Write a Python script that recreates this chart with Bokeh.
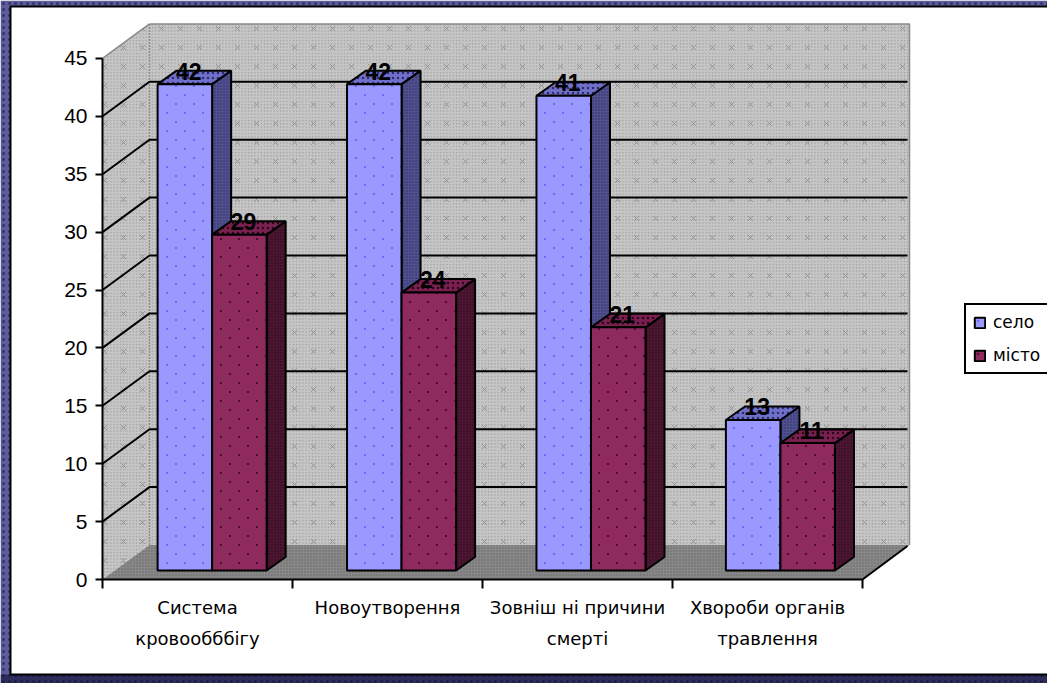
import base64
import struct
import zlib

from bokeh.embed import file_html
from bokeh.resources import INLINE
from bokeh.plotting import figure
from bokeh.models import Range1d, LinearAxis, FixedTicker, Legend, LegendItem, ColumnDataSource, ImageURLTexture
from bokeh.core.properties import value

# Mortality causes, rural against urban
categories = ["Система\nкровообббігу", "Новоутворення", "Зовніш ні причини\nсмерті", "Хвороби органів\nтравлення"]
selo = [42, 42, 41, 13]
misto = [29, 24, 21, 11]
series_names = ["село", "місто"]
y_ticks = [0, 5, 10, 15, 20, 25, 30, 35, 40, 45]

W, H = 1047, 683
UX, UY = 190.0, 11.58          # pixels per category, pixels per value unit
X0, Y0 = 102, 579              # pixel position of the axes' origin


def dx(px):
    return px / UX


def dy(px):
    return px / UY


def png_texture(size, is_on, shade):
    """Build a transparent square PNG tile; pixels where is_on(row, col) get the given RGBA shade."""
    rows = []
    for r in range(size):
        row = bytearray([0])
        for q in range(size):
            row += bytes(shade if is_on(r, q) else (0, 0, 0, 0))
        rows.append(bytes(row))

    def chunk(tag, data):
        return struct.pack(">I", len(data)) + tag + data + struct.pack(">I", zlib.crc32(tag + data))

    png = (b"\x89PNG\r\n\x1a\n"
           + chunk(b"IHDR", struct.pack(">IIBBBBB", size, size, 8, 6, 0, 0, 0))
           + chunk(b"IDAT", zlib.compress(b"".join(rows)))
           + chunk(b"IEND", b""))
    return ImageURLTexture(url="data:image/png;base64," + base64.b64encode(png).decode())


def x_mark(r, q, c=9, arm=2):
    return abs(r - c) == abs(q - c) and abs(r - c) <= arm


def staggered_dot(r, q):
    return (r in (4, 5) and q in (4, 5)) or (r in (13, 14) and q in (13, 14))


FONT = "Liberation Sans"
WIDE_FONT = "DejaVu Sans"
p = figure(width=W, height=H, output_backend="svg", toolbar_location=None,
           x_range=Range1d(-X0 / UX, (W - X0) / UX),
           y_range=Range1d((Y0 - H) / UY, Y0 / UY),
           min_border=0, outline_line_color=None, x_axis_type=None, y_axis_type=None)
p.grid.visible = False
p.background_fill_color = "white"

xmin, xmax = p.x_range.start, p.x_range.end
ymin, ymax = p.y_range.start, p.y_range.end

# Slide background and the white chart panel
p.quad(left=xmin, right=xmax, bottom=ymin, top=ymax, fill_color="#5c5c98", line_color=None,
       hatch_pattern="dot", hatch_color="#34346e", hatch_scale=6, hatch_weight=0.8)
p.quad(left=xmin, right=xmax, bottom=ymin, top=dy(Y0 - 674), fill_color="#2d2d5c", line_color=None,
       hatch_pattern="dot", hatch_color="#1c1c44", hatch_scale=6, hatch_weight=0.8)
p.quad(left=dx(10 - X0), right=xmax + 1, bottom=dy(Y0 - 674), top=dy(Y0 - 6),
       fill_color="white", line_color="black", line_width=2)

# 3D box: walls and floor
WALL_X, WALL_Y = dx(47), dy(34.5)
FLOOR_W = 4.0
Y_TOP = y_ticks[-1]
wall_style = dict(fill_color="#c6c6c6", line_color=None, hatch_pattern="dot",
                  hatch_color="#a4a4a4", hatch_scale=3.2, hatch_weight=0.9)
side_wall = ([0, WALL_X, WALL_X, 0], [0, WALL_Y, Y_TOP + WALL_Y, Y_TOP])
back_wall = ([WALL_X, FLOOR_W + WALL_X, FLOOR_W + WALL_X, WALL_X],
             [WALL_Y, WALL_Y, Y_TOP + WALL_Y, Y_TOP + WALL_Y])
x_tex = {"xmark": png_texture(19, x_mark, (125, 125, 125, 170))}
for xs, ys in (side_wall, back_wall):
    p.patch(xs, ys, **wall_style)
    # Sparse x marks over the dither
    p.patch(xs, ys, fill_alpha=0, line_color=None, hatch_pattern="xmark", hatch_extra=x_tex)
p.patch([0, FLOOR_W, FLOOR_W + WALL_X, WALL_X], [0, 0, WALL_Y, WALL_Y],
        fill_color="#888888", line_color=None, hatch_pattern="dot",
        hatch_color="#666666", hatch_scale=3, hatch_weight=0.9)
p.line([WALL_X, WALL_X], [WALL_Y, Y_TOP + WALL_Y], line_color="#8c8c8c", line_width=1.5, line_dash="2 1")
p.line([WALL_X, FLOOR_W + WALL_X, FLOOR_W + WALL_X], [Y_TOP + WALL_Y, Y_TOP + WALL_Y, WALL_Y],
       line_color="#8a8a8a", line_width=1.5)
p.line([0, WALL_X, WALL_X], [Y_TOP, Y_TOP + WALL_Y, Y_TOP + WALL_Y], line_color="#8a8a8a", line_width=1.5)

# Grid: a diagonal on the side wall, a horizontal on the back wall
for t in y_ticks[1:-1]:
    p.line([0, WALL_X, FLOOR_W + WALL_X - dx(2)], [t, t + WALL_Y, t + WALL_Y],
           line_color="black", line_width=2)
p.line([FLOOR_W, FLOOR_W + WALL_X - dx(2)], [0, WALL_Y - dy(1)], line_color="black", line_width=2)

# Bars
BAR_LIFT = dy(9)
BAR_W = 0.287
BAR_START = 0.29
GROUP_PITCH = 0.997
D_X, D_Y = dx(19), dy(13.5)
colors = [
    dict(front="#9999ff", dots=(106, 106, 255, 255), top="#7070cc", side="#50508f", side_dots="#2e2e66"),
    dict(front="#8f2a5f", dots=(76, 12, 48, 255), top="#7a2050", side="#4d1733", side_dots="#2a0618"),
]

legend_items = []
for s, (vals, c) in enumerate(zip([selo, misto], colors)):
    lefts = [i * GROUP_PITCH + BAR_START + s * BAR_W for i in range(len(vals))]
    rights = [l + BAR_W for l in lefts]
    tops = [v + BAR_LIFT for v in vals]
    side_xs = [[r, r + D_X, r + D_X, r] for r in rights]
    side_ys = [[BAR_LIFT, BAR_LIFT + D_Y, t + D_Y, t] for t in tops]
    top_xs = [[l, l + D_X, r + D_X, r] for l, r in zip(lefts, rights)]
    top_ys = [[t, t + D_Y, t + D_Y, t] for t in tops]
    p.patches(side_xs, side_ys, fill_color=c["side"], line_color="black", line_width=2,
              hatch_pattern="dot", hatch_color=c["side_dots"], hatch_scale=3, hatch_weight=0.8)
    p.patches(top_xs, top_ys, fill_color=c["top"], line_color="black", line_width=2,
              hatch_pattern="dot", hatch_color=c["side_dots"], hatch_scale=5, hatch_weight=0.7)
    dots = {"sparse": png_texture(18, staggered_dot, c["dots"])}
    fronts = [p.patch([l, r, r, l], [BAR_LIFT, BAR_LIFT, t, t], fill_color=c["front"],
                      line_color="black", line_width=2, hatch_pattern="sparse", hatch_extra=dots)
              for l, r, t in zip(lefts, rights, tops)]
    legend_items.append(LegendItem(label=series_names[s], renderers=[fronts[0]]))

# Value labels sit just above each bar's top face
for s, vals in enumerate([selo, misto]):
    src = ColumnDataSource(dict(
        x=[i * GROUP_PITCH + BAR_START + s * BAR_W + BAR_W / 2 + dx(4) for i in range(len(vals))],
        y=[v + BAR_LIFT + dy(13) for v in vals],
        t=[str(v) for v in vals]))
    p.text("x", "y", text="t", source=src, text_align="center", text_baseline="middle",
           text_font=value(FONT), text_font_size="23px", text_font_style="bold", text_color="black")

# Value axis drawn along the front left edge
y_axis = LinearAxis(fixed_location=0, ticker=FixedTicker(ticks=y_ticks), bounds=(0, y_ticks[-1]))
y_axis.axis_line_color = "black"
y_axis.axis_line_width = 2
y_axis.major_tick_line_color = "black"
y_axis.major_tick_line_width = 2
y_axis.major_tick_out = 7
y_axis.major_tick_in = 0
y_axis.minor_tick_line_color = None
y_axis.major_label_standoff = 8
y_axis.major_label_text_font = FONT
y_axis.major_label_text_font_size = "21px"
y_axis.major_label_text_color = "black"
p.add_layout(y_axis, "left")

# Category axis: minor ticks mark group edges, labels stand at group centres
centres = [i + 0.5 for i in range(len(categories))]
x_axis = LinearAxis(fixed_location=0, bounds=(0, len(categories)),
                    ticker=FixedTicker(ticks=centres, minor_ticks=list(range(len(categories) + 1))),
                    major_label_overrides=dict(zip(centres, categories)))
x_axis.axis_line_color = "black"
x_axis.axis_line_width = 2
x_axis.major_tick_line_color = None
x_axis.minor_tick_line_color = "black"
x_axis.minor_tick_line_width = 2
x_axis.minor_tick_out = 9
x_axis.minor_tick_in = 0
x_axis.major_label_standoff = 8
x_axis.major_label_text_font = WIDE_FONT
x_axis.major_label_text_font_size = "18px"
x_axis.major_label_text_color = "black"
x_axis.major_label_text_line_height = 1.5
p.add_layout(x_axis, "below")

legend = Legend(items=legend_items, location=(964, H - 374), orientation="vertical",
                border_line_color="black", border_line_alpha=1, border_line_width=2,
                background_fill_color="white", background_fill_alpha=1,
                label_text_font=WIDE_FONT, label_text_font_size="17px",
                label_text_color="black", glyph_width=13, glyph_height=13, label_standoff=7,
                padding=7, spacing=13, margin=0, label_height=13)
p.add_layout(legend, "center")

open("out.html", "w").write(file_html(p, INLINE))
